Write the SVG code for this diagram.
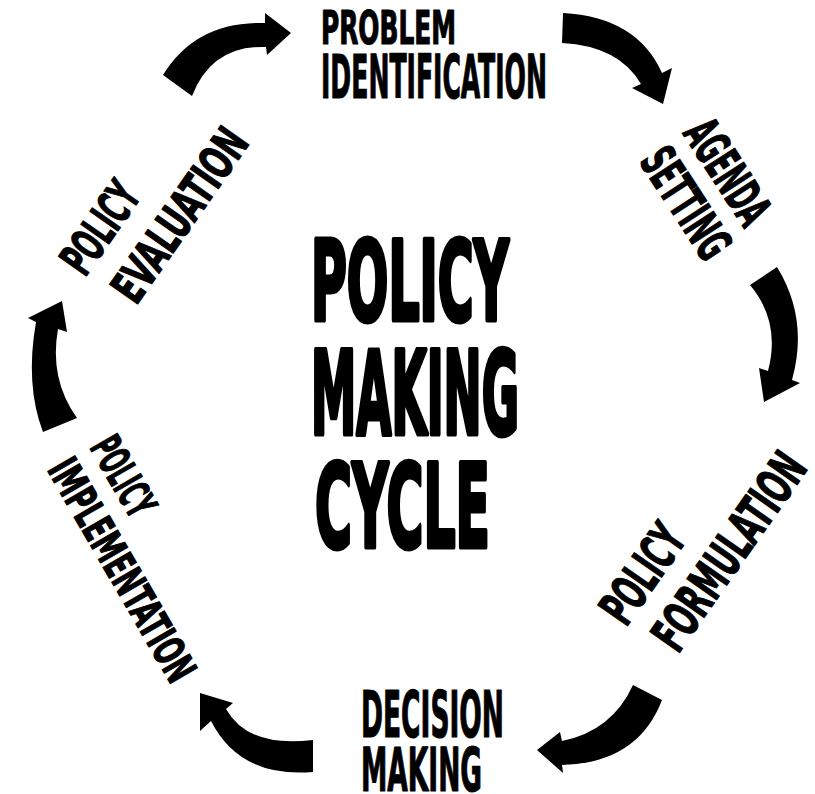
<svg xmlns="http://www.w3.org/2000/svg" width="815" height="794" viewBox="0 0 815 794">
<style>
.t{font-family:'DejaVu Sans Condensed','Liberation Sans Narrow','DejaVu Sans','Liberation Sans',sans-serif;font-weight:bold;fill:#000;stroke:#000;stroke-linejoin:round;stroke-width:1.2}
.title{stroke-width:5}
.arrow{fill:#000;stroke:none}
</style>
<rect width="815" height="794" fill="#fff"/>
<g id="connectors">
<path class="arrow" d="M163,75 Q196,21 265,23 L265,13 L291,33 L267,55 L266,47 Q212,45 192,96 Z"/>
<path class="arrow" d="M563,13 Q637,17 662,73 L672,68 L663,104 L632,88 L641,84 Q619,46 562,43 Z"/>
<path class="arrow" d="M750,285 L777,267 Q809,319 792,380 L800,383 L764,402 L759,368 L768,371 Q781,322 750,285 Z"/>
<path class="arrow" d="M633,685 L662,700 Q638,763 562,765 L563,773 L537,750 L560,732 L562,741 Q612,731 633,685 Z"/>
<path class="arrow" d="M313,740 Q248,748 226,709 L233,703 L200,693 L200,731 L211,721 Q240,778 313,772 Z"/>
<path class="arrow" d="M43,432 Q25,385 36,322 L28,318 L62,301 L67,332 L58,329 Q49,379 77,418 Z"/>
</g>
<g id="title">
<text class="t title" x="311" y="320" font-size="111" textLength="198" lengthAdjust="spacingAndGlyphs">POLICY</text>
<text class="t title" x="311" y="434" font-size="115" textLength="208" lengthAdjust="spacingAndGlyphs">MAKING</text>
<text class="t title" x="315" y="547" font-size="116" textLength="175" lengthAdjust="spacingAndGlyphs">CYCLE</text>
</g>
<g id="problem-identification">
<text class="t" x="321" y="44" font-size="46" textLength="135" lengthAdjust="spacingAndGlyphs">PROBLEM</text>
<text class="t" x="321" y="98" font-size="61" textLength="226" lengthAdjust="spacingAndGlyphs">IDENTIFICATION</text>
</g>
<g id="agenda-setting" transform="translate(682,133) rotate(57)">
<text class="t" x="0" y="0" font-size="49" textLength="115" lengthAdjust="spacingAndGlyphs">AGENDA</text>
<text class="t" x="0" y="52" font-size="49" textLength="122" lengthAdjust="spacingAndGlyphs">SETTING</text>
</g>
<g id="policy-formulation" transform="translate(626,628) rotate(-55)">
<text class="t" x="0" y="0" font-size="50" textLength="108" lengthAdjust="spacingAndGlyphs">POLICY</text>
<text class="t" x="8" y="58" font-size="50" textLength="228" lengthAdjust="spacingAndGlyphs">FORMULATION</text>
</g>
<g id="decision-making">
<text class="t" x="361" y="737" font-size="64" textLength="143" lengthAdjust="spacingAndGlyphs">DECISION</text>
<text class="t" x="361" y="791" font-size="60" textLength="121" lengthAdjust="spacingAndGlyphs">MAKING</text>
</g>
<g id="policy-implementation" transform="translate(89,447) rotate(60)">
<text class="t" x="0" y="0" font-size="43" textLength="85" lengthAdjust="spacingAndGlyphs">POLICY</text>
<text class="t" x="-2" y="48" font-size="43" textLength="250" lengthAdjust="spacingAndGlyphs">IMPLEMENTATION</text>
</g>
<g id="policy-evaluation" transform="translate(85,278) rotate(-55)">
<text class="t" x="0" y="0" font-size="47" textLength="100" lengthAdjust="spacingAndGlyphs">POLICY</text>
<text class="t" x="6" y="58" font-size="47" textLength="200" lengthAdjust="spacingAndGlyphs">EVALUATION</text>
</g>
</svg>
